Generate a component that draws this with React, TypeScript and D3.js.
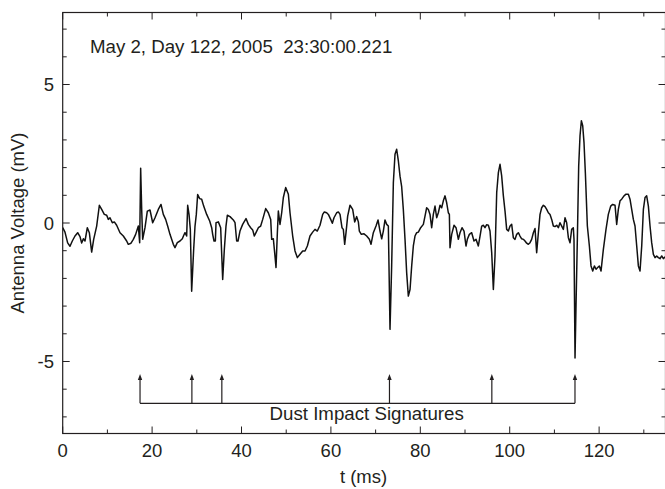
import React from "react";
import * as d3 from "d3";

const WIDTH = 665;
const HEIGHT = 489;
const PLOT = { left: 62.7, top: 12.5, right: 665.5, bottom: 433.5 };

const X_DOMAIN = [0, 134.85];
const Y_DOMAIN = [-7.6, 7.6];

const xLabelTicks = [0, 20, 40, 60, 80, 100, 120];
const xMinorTicks = [10, 30, 50, 70, 90, 110, 130];
const yLabelTicks = [-5, 0, 5];
const yMinorTicks = [-7, -6, -4, -3, -2, -1, 1, 2, 3, 4, 6, 7];

const titleText = "May 2, Day 122, 2005  23:30:00.221";
const annotationText = "Dust Impact Signatures";
const xAxisTitle = "t (ms)";
const yAxisTitle = "Antenna Voltage (mV)";

const impactTimes = [17.3, 28.9, 35.6, 73.1, 96.0, 114.6];
const arrowTipV = -5.45;
const arrowBaseV = -6.51;

const timeMs = [
  0, 0.51, 1.11, 1.63, 2.15, 2.75, 3.35, 3.87, 4.24, 4.62, 4.99, 5.51, 5.96, 6.48, 6.93, 7.6, 8.2, 8.72, 9.31, 9.84,
  10.21, 10.58, 11.1, 11.55, 12.07, 12.82, 13.56, 14.31, 14.68, 15.28, 15.8, 16.32, 16.92, 17.22, 17.44, 17.67, 17.89,
  18.41, 18.93, 19.53, 20.13, 20.65, 21.39, 21.99, 22.51, 23.03, 23.48, 24.0, 24.75, 25.12, 25.64, 26.24, 26.76, 27.06,
  27.36, 27.73, 27.96, 28.26, 28.55, 28.85, 29.3, 29.6, 29.89, 30.19, 30.64, 31.09, 31.54, 32.21, 32.88, 33.33,
  33.55, 33.85, 34.15, 34.3, 34.82, 35.34, 35.79, 36.16, 36.53, 36.83, 37.43, 38.17, 38.55, 38.92, 39.22, 39.66, 40.26,
  41.01, 41.53, 42.05, 42.5, 42.87, 43.24, 43.77, 44.29, 44.74, 45.41, 46.0, 46.53, 46.75, 47.12, 47.42, 47.72, 48.02,
  48.24, 48.61, 48.99, 49.36, 49.88, 50.48, 50.85, 51.45, 51.97, 52.49, 53.09, 53.69, 54.21, 54.73, 55.32, 55.92, 56.44,
  56.96, 57.56, 58.16, 58.53, 59.05, 59.43, 59.95, 60.32, 60.69, 61.29, 61.67, 62.04, 62.48, 62.78, 63.08, 63.38, 63.75,
  64.27, 64.87, 65.32, 65.77, 66.14, 66.36, 66.81, 67.41, 68.0, 68.6, 68.97, 69.49, 70.09, 70.54, 70.98, 71.36, 71.73,
  72.1, 72.48, 72.85, 73.22, 73.59, 73.97, 74.34, 74.71, 75.09, 75.46, 75.83, 76.2, 76.58, 76.95, 77.32, 77.7, 78.07,
  78.44, 78.81, 79.19, 79.56, 80.08, 80.68, 81.05, 81.42, 81.8, 82.17, 82.54, 82.91, 83.29, 83.66, 84.03, 84.41, 84.78,
  85.15, 85.53, 85.9, 86.27, 86.5, 86.64, 87.02, 87.54, 87.99, 88.51, 88.88, 89.33, 89.78, 90.22, 90.52, 90.97, 91.49,
  92.01, 92.46, 92.98, 93.36, 93.73, 94.1, 94.47, 94.85, 95.22, 95.59, 95.97, 96.34, 96.71, 97.09, 97.46,
  97.83, 98.2, 98.58, 98.95, 99.32, 99.7, 100.07, 100.44, 100.81, 101.19, 101.56, 101.93, 102.3, 102.68, 103.05, 103.42,
  103.8, 104.17, 104.54, 104.91, 105.29, 105.66, 106.03, 106.41, 106.78, 107.15, 107.53, 107.9, 108.27, 108.64, 109.02,
  109.39, 109.76, 110.13, 110.51, 110.88, 111.25, 111.63, 112.0, 112.37, 112.74, 113.12, 113.49, 113.86, 114.23, 114.38,
  114.61, 114.83, 115.13, 115.43, 115.73, 116.03, 116.33, 116.62, 116.92, 117.37, 117.82, 118.19, 118.57, 118.94, 119.31,
  119.68, 120.05, 120.43, 120.95, 121.54, 122.06, 122.59, 123.03, 123.56, 123.93, 124.3, 124.68, 125.05, 125.57, 126.02,
  126.54, 126.91, 127.29, 127.66, 128.03, 128.41, 128.78, 129.15, 129.53, 129.9, 130.27, 130.64, 131.02, 131.39, 131.76,
  132.14, 132.51, 132.88, 133.25, 133.63, 134.0, 134.37, 134.74,
];

const voltageMv = [
  -0.17, -0.33, -0.72, -0.84, -0.65, -0.47, -0.35, -0.49, -0.72, -0.57, -0.65, -0.17, -0.35, -1.05, -0.59, -0.11, 0.64, 0.49, 0.31, 0.28,
  0.13, 0.19, 0.01, 0.04, -0.08, -0.35, -0.47, -0.65, -0.77, -0.73, -0.59, -0.41, -0.11, -0.71, 1.98, 0.49, -0.59,
  -0.17, 0.43, 0.47, 0.01, 0.19, 0.49, 0.67, 0.31, 0.13, -0.11, -0.41, -0.77, -0.89, -0.71, -0.65, -0.57, -0.45,
  -0.35, -0.47, 0.64, 0.31, -0.23, -2.46, -0.95, -0.11, 0.31, 1.03, 0.88, 0.86, 0.61, 0.31, 0.07, -0.17,
  -0.41, -0.65, -0.65, 0.01, 0.04, -0.17, -2.04, -0.95, -0.11, 0.28, 0.23, 0.11, 0.01, -0.65, -0.65, -0.29, -0.05,
  0.16, -0.05, -0.17, -0.25, -0.47, -0.35, -0.17, -0.11, 0.13, 0.52, 0.37, 0.13, -0.59, -0.57, -1.07, -1.61, -0.35,
  0.43, -0.05, 0.37, 0.92, 1.28, 1.04, 0.37, -0.47, -1.01, -1.25, -1.13, -1.01, -1.01, -0.83, -0.47, -0.33, -0.23,
  -0.29, -0.08, 0.31, 0.4, 0.37, 0.31, 0.13, -0.01, 0.19, 0.37, 0.4, 0.31, -0.17, -0.23, -0.77, -0.35, 0.25,
  0.64, 0.49, 0.04, 0.23, 0.04, -0.29, -0.41, -0.39, -0.47, -0.59, -0.77, -0.35, -0.11, 0.11, -0.29, -0.57, -0.29,
  0.11, -0.05, -0.11, -3.84, -1.55, 1.46, 2.48, 2.66, 2.24, 1.69, 1.31, 0.49, -0.59, -1.8, -2.64, -2.4, -1.55,
  -0.83, -0.47, -0.35, -0.33, -0.17, -0.05, 0.25, 0.55, 0.49, 0.31, -0.17, 0.31, 0.61, 0.19, 0.37, 0.64, 0.55,
  0.8, 0.98, 0.73, 0.37, 0.31, -0.89, -0.41, -0.08, -0.17, -0.59, -0.35, -0.17, -0.29, -0.83, -0.59, -0.41, -0.35,
  -0.65, -0.59, -0.83, -0.47, -0.11, -0.08, -0.17, -0.06, -0.08, -0.29, -1.07, -2.4, -1.19, 1.1, 1.82,
  2.12, 1.7, 0.98, 0.43, -0.23, -0.29, -0.11, -0.05, -0.53, -0.59, -0.41, -0.35, -0.47, -0.57, -0.59, -0.65,
  -0.73, -0.77, -0.71, -0.59, -0.35, -0.2, -1.07, -0.35, 0.31, 0.55, 0.64, 0.59, 0.49, 0.37, 0.31,
  0.13, -0.11, -0.13, -0.08, -0.17, 0.01, -0.11, -0.23, 0.19, 0.01, -0.53, -0.71, -0.23, -0.17, -0.59,
  -4.87, -3.0, -0.59, 2.06, 3.16, 3.69, 3.51, 2.9, 1.82, -0.11, -0.83, -1.55, -1.73, -1.55, -1.67,
  -1.61, -1.55, -1.73, -0.95, -0.23, 0.31, 0.61, 0.67, 0.64, -0.05, 0.49, 0.8, 0.86, 0.98, 1.04,
  1.04, 0.86, 0.49, 0.13, -0.11, -0.83, -1.55, -1.73, -0.83, 0.49, 0.92, 0.98, 0.61, -0.11, -0.71,
  -1.13, -1.25, -1.19, -1.25, -1.29, -1.19, -1.29, -1.22,
];

const FONT = "'Liberation Sans', Arial, Helvetica, sans-serif";
const INK = "#231f20";

export default function App() {
  const x = d3.scaleLinear().domain(X_DOMAIN).range([PLOT.left, PLOT.right]);
  const y = d3.scaleLinear().domain(Y_DOMAIN).range([PLOT.bottom, PLOT.top]);

  const points = timeMs.map((t, i) => [t, voltageMv[i]] as [number, number]);
  const line = d3
    .line<[number, number]>()
    .x((d) => x(d[0]))
    .y((d) => y(d[1]));

  const majorLen = 7;
  const minorLen = 4;

  const arrowPath = (t: number) => {
    const cx = x(t);
    const tip = y(arrowTipV);
    return `M${cx},${tip} L${cx - 2.2},${tip + 6} L${cx + 2.2},${tip + 6} Z`;
  };

  return (
    <div style={{ position: "absolute", left: 0, top: 0, width: WIDTH, height: HEIGHT, background: "#fff" }}>
      <svg width={WIDTH} height={HEIGHT} style={{ display: "block" }} fontFamily={FONT}>
        <defs>
          <clipPath id="plotClip">
            <rect x={PLOT.left} y={PLOT.top} width={PLOT.right - PLOT.left} height={PLOT.bottom - PLOT.top} />
          </clipPath>
        </defs>
        <rect x={0} y={0} width={WIDTH} height={HEIGHT} fill="#fff" />

        <rect
          x={PLOT.left}
          y={PLOT.top}
          width={PLOT.right - PLOT.left}
          height={PLOT.bottom - PLOT.top}
          fill="none"
          stroke={INK}
          strokeWidth={1.2}
        />

        {xLabelTicks.concat(xMinorTicks).map((t) => {
          const len = xLabelTicks.includes(t) ? majorLen : minorLen;
          return (
            <g key={"xt" + t}>
              <line x1={x(t)} x2={x(t)} y1={PLOT.bottom} y2={PLOT.bottom - len} stroke={INK} strokeWidth={1} />
              <line x1={x(t)} x2={x(t)} y1={PLOT.top} y2={PLOT.top + len} stroke={INK} strokeWidth={1} />
            </g>
          );
        })}
        {yLabelTicks.concat(yMinorTicks).map((v) => {
          const len = yLabelTicks.includes(v) ? majorLen : minorLen;
          return (
            <g key={"yt" + v}>
              <line x1={PLOT.left} x2={PLOT.left + len} y1={y(v)} y2={y(v)} stroke={INK} strokeWidth={1} />
              <line x1={PLOT.right} x2={PLOT.right - len} y1={y(v)} y2={y(v)} stroke={INK} strokeWidth={1} />
            </g>
          );
        })}

        {xLabelTicks.map((t) => (
          <text key={"xl" + t} x={x(t)} y={457} textAnchor="middle" fontSize={18.5} fill={INK}>
            {t}
          </text>
        ))}
        {yLabelTicks.map((v) => (
          <text key={"yl" + v} x={54} y={y(v) + 6.5} textAnchor="end" fontSize={18.5} fill={INK}>
            {v < 0 ? "-" + Math.abs(v) : String(v)}
          </text>
        ))}

        <text x={x(67.3)} y={483} textAnchor="middle" fontSize={18.5} fill={INK}>
          {xAxisTitle}
        </text>
        <text
          transform={`translate(${24},${(PLOT.top + PLOT.bottom) / 2}) rotate(-90)`}
          textAnchor="middle"
          fontSize={18.5}
          fill={INK}
        >
          {yAxisTitle}
        </text>

        <text x={x(6.1)} y={53} fontSize={18.7} fill={INK} style={{ whiteSpace: "pre" }} xmlSpace="preserve">
          {titleText}
        </text>

        <path
          d={line(points) || ""}
          fill="none"
          stroke="#111"
          strokeWidth={1.5}
          strokeLinejoin="round"
          clipPath="url(#plotClip)"
        />

        <line
          x1={x(impactTimes[0])}
          x2={x(impactTimes[impactTimes.length - 1])}
          y1={y(arrowBaseV)}
          y2={y(arrowBaseV)}
          stroke={INK}
          strokeWidth={1.2}
        />
        {impactTimes.map((t) => (
          <g key={"imp" + t}>
            <line x1={x(t)} x2={x(t)} y1={y(arrowBaseV)} y2={y(arrowTipV) + 3} stroke={INK} strokeWidth={1.2} />
            <path d={arrowPath(t)} fill={INK} />
          </g>
        ))}
        <text x={x(68)} y={420} textAnchor="middle" fontSize={18.7} fill={INK}>
          {annotationText}
        </text>
      </svg>
    </div>
  );
}
